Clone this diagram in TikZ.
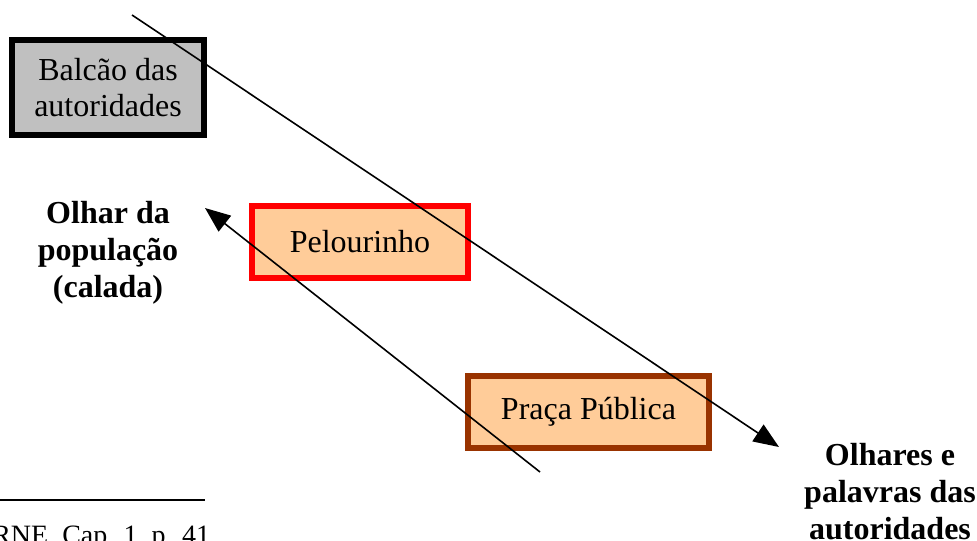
\documentclass[tikz,border=0pt]{standalone}
\usepackage{fontspec}
\setmainfont{Liberation Serif}
\usetikzlibrary{arrows.meta}
\definecolor{boxgray}{HTML}{C0C0C0}
\definecolor{peach}{HTML}{FFCC99}
\definecolor{brick}{HTML}{993300}
\begin{document}
\begin{tikzpicture}[x=0.75pt,y=-0.75pt,
  place/.style={draw, inner sep=0pt, align=center, font=\fontsize{24}{27.6}\selectfont},
  caption/.style={inner sep=0pt, align=center, font=\bfseries\fontsize{24}{27.6}\selectfont},
  ray/.style={line width=1.2pt, -{Triangle[length=19pt,width=15pt]}}]
\useasboundingbox (0,0) rectangle (977,540);
\clip (0,0) rectangle (977,540);

% places
\node[place, line width=4.5pt, fill=boxgray, minimum width=144pt, minimum height=71.25pt]
  (balcao) at (108,87.5) {Balcão das\\autoridades};
\node[place, draw=red, line width=4.5pt, fill=peach, minimum width=162pt, minimum height=54pt]
  (pelourinho) at (360,242) {Pelourinho};
\node[place, draw=brick, line width=4.1pt, fill=peach, minimum width=180.75pt, minimum height=54pt]
  (praca) at (588.5,412) {Praça Pública};

% who is looking
\node[caption, anchor=north] (populacao) at (108,201) {Olhar da\\população\\(calada)};
\node[caption, anchor=north] (autoridades) at (890,443) {Olhares e\\palavras das\\autoridades};

% lines of sight
\coordinate (govstart) at (132,15);
\coordinate (govend) at (779,447);
\coordinate (popstart) at (540,472);
\coordinate (popend) at (205,208);
\draw[ray] (govstart) -- (govend);
\draw[ray] (popstart) -- (popend);

% footnote
\draw[line width=1.3pt] (0,500) -- (205,500);
\node[anchor=base west, inner sep=0pt, font=\fontsize{21}{24}\selectfont]
  (fonte) at (-8,544) {RNE, Cap. 1, p. 41};
\end{tikzpicture}
\end{document}
